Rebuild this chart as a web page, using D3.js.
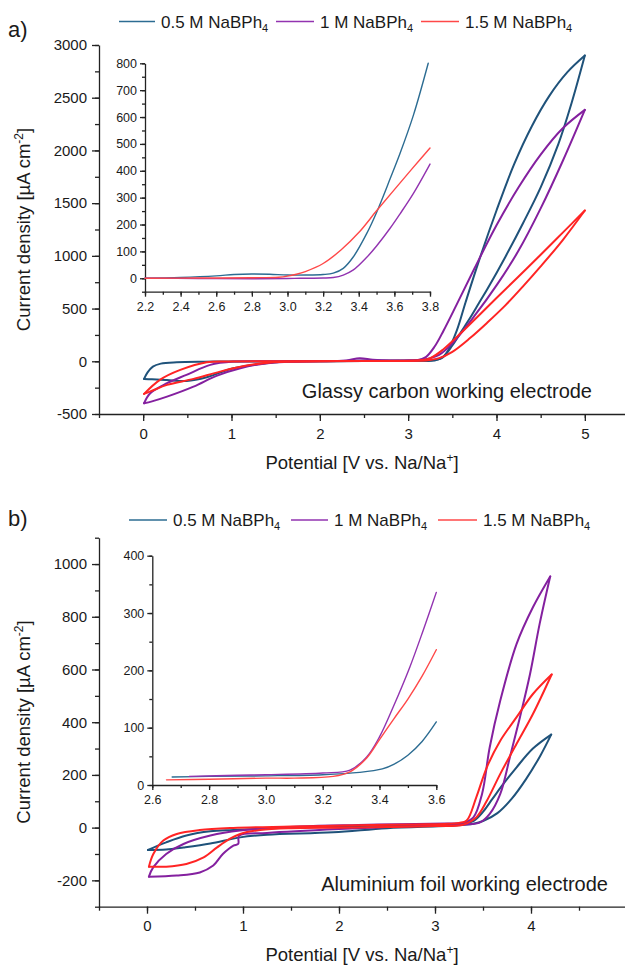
<!DOCTYPE html>
<html lang="en">
<head>
<meta charset="UTF-8" />
<title>CV of NaBPh4 electrolytes</title>
<script src="https://cdnjs.cloudflare.com/ajax/libs/d3/7.8.5/d3.min.js"></script>
<style>
  body { margin: 0; background: #fff; }
  svg { display: block; font-family: "Liberation Sans", Arial, sans-serif; }
  .axis path, .axis line { stroke: #222; stroke-width: 1.3; }
  .axis text { fill: #1a1a1a; }
</style>
</head>
<body>
<svg id="chart" width="625" height="966"></svg>
<script>
  // legend labels (the "4" is drawn as a subscript)
  const seriesLabels = ["0.5 M NaBPh", "1 M NaBPh", "1.5 M NaBPh"];
  const seriesColors = ["#1f527a", "#84209f", "#ff2424"];
  const insetColors = ["#2c6c92", "#9233b0", "#ff4848"];

  // ---- panel a) glassy carbon, [V, uA cm-2] ----
  const aBlueFwd = [[0.01,-167],[0.05,-105],[0.11,-50],[0.2,-22],[0.38,-9],[0.7,-4],[1.0,-2],[1.5,-1],[2.0,0],[2.5,3],[2.9,5],[3.1,6],[3.3,8],[3.4,45],[3.5,150],[3.6,280],[3.7,410],[3.8,550],[3.9,690],[4.1,990],[4.3,1310],[4.5,1650],[4.7,2060],[4.85,2450],[5.0,2900]];
  const aBlueRev = [[5.0,2900],[4.8,2740],[4.6,2520],[4.4,2230],[4.2,1870],[4.0,1430],[3.8,950],[3.65,560],[3.55,290],[3.45,100],[3.38,30],[3.25,10],[3.0,6],[2.5,4],[2.0,0],[1.62,-3],[1.32,-25],[1.02,-66],[0.72,-151],[0.49,-186],[0.27,-178],[0.1,-170],[0.01,-167]];
  const aPurpleFwd = [[0.01,-398],[0.08,-303],[0.27,-208],[0.49,-129],[0.76,-34],[1.02,-3],[1.5,0],[2.0,2],[2.3,8],[2.45,28],[2.6,15],[2.8,8],[3.0,10],[3.15,15],[3.25,30],[3.35,60],[3.5,170],[3.75,430],[4.0,720],[4.25,1050],[4.5,1450],[4.75,1900],[5.0,2385]];
  const aPurpleRev = [[5.0,2385],[4.75,2210],[4.5,1960],[4.25,1650],[4.0,1290],[3.75,880],[3.55,540],[3.4,290],[3.3,140],[3.2,40],[3.1,10],[2.8,5],[2.5,8],[2.0,0],[1.62,-5],[1.4,-18],[1.1,-66],[0.83,-138],[0.57,-240],[0.27,-335],[0.1,-380],[0.01,-398]];
  const aRedFwd = [[0.01,-309],[0.19,-176],[0.42,-82],[0.72,-9],[1.0,-2],[1.5,0],[2.0,1],[2.5,3],[3.0,5],[3.2,8],[3.35,30],[3.5,90],[3.7,220],[3.9,370],[4.1,530],[4.3,710],[4.5,900],[4.75,1150],[5.0,1430]];
  const aRedRev = [[5.0,1430],[4.75,1220],[4.5,1010],[4.25,805],[4.0,600],[3.8,435],[3.6,270],[3.4,115],[3.25,30],[3.1,8],[2.5,3],[2.0,0],[1.47,-9],[1.17,-41],[0.87,-98],[0.57,-167],[0.27,-224],[0.1,-280],[0.01,-309]];
  // inset a)
  const iaBlue = [[2.2,0],[2.4,3],[2.6,9],[2.7,14],[2.8,16],[2.9,15],[3.0,12],[3.1,12],[3.2,14],[3.257,19],[3.313,37],[3.37,80],[3.445,167],[3.5,245],[3.576,370],[3.632,465],[3.707,607],[3.79,800]];
  const iaPurple = [[2.2,0],[2.5,-1],[2.8,-2],[3.0,-1],[3.07,0],[3.2,1],[3.257,3],[3.313,12],[3.37,31],[3.445,78],[3.5,120],[3.576,186],[3.632,240],[3.707,316],[3.8,425]];
  const iaRed = [[2.2,0],[2.5,1],[2.8,2],[2.95,4],[3.0,8],[3.05,15],[3.1,25],[3.2,55],[3.3,105],[3.4,170],[3.5,251],[3.6,330],[3.7,408],[3.8,485]];

  // ---- panel b) aluminium foil ----
  const bBlueFwd = [[0.01,-85],[0.2,-56],[0.41,-30],[0.66,-14],[0.9,-9],[1.59,1],[2.2,6],[2.8,10],[3.2,14],[3.3,16],[3.4,25],[3.5,60],[3.6,110],[3.7,160],[3.85,229],[4.02,300],[4.21,353]];
  const bBlueRev = [[4.21,353],[4.1,275],[3.95,185],[3.8,110],[3.65,55],[3.5,25],[3.4,15],[3.2,8],[2.5,-2],[1.94,-18],[1.25,-27],[0.97,-37],[0.66,-60],[0.38,-75],[0.2,-83],[0.01,-85]];
  const bPurpleFwd = [[0.02,-186],[0.066,-150],[0.2,-100],[0.38,-62],[0.66,-30],[0.97,-11],[1.59,4],[2.2,10],[2.8,14],[3.1,16],[3.29,18],[3.4,39],[3.49,128],[3.57,305],[3.68,482],[3.85,697],[4.02,836],[4.2,953]];
  const bPurpleRev = [[4.2,953],[4.09,773],[3.99,583],[3.885,419],[3.78,267],[3.68,128],[3.57,52],[3.47,20],[3.3,12],[3.0,8],[2.5,2],[2.0,-5],[1.25,-20],[0.96,-30],[0.95,-62],[0.9,-68],[0.79,-100],[0.69,-144],[0.55,-170],[0.31,-182],[0.02,-186]];
  const bRedFwd = [[0.02,-148],[0.066,-100],[0.17,-49],[0.31,-24],[0.55,-9],[0.9,-1],[1.5,4],[2.2,9],[2.8,12],[3.1,14],[3.25,18],[3.33,27],[3.43,115],[3.54,229],[3.68,330],[3.85,419],[4.02,507],[4.215,581]];
  const bRedRev = [[4.215,581],[4.02,431],[3.85,318],[3.68,204],[3.54,102],[3.43,39],[3.3,12],[3.0,6],[2.5,2],[2.0,0],[1.5,-2],[1.18,-9],[0.97,-24],[0.86,-43],[0.73,-75],[0.59,-113],[0.41,-138],[0.2,-148],[0.02,-148]];
  // inset b)
  const ibBlue = [[2.67,14],[2.8,15],[3.0,16],[3.2,18],[3.33,22],[3.41,28],[3.45,36],[3.5,52],[3.55,76],[3.6,110]];
  const ibPurple = [[2.73,15],[2.9,17],[3.0,18],[3.2,21],[3.296,26],[3.355,49],[3.4,84],[3.449,137],[3.507,206],[3.554,270],[3.6,336]];
  const ibRed = [[2.65,9],[2.8,10],[3.0,12],[3.1,12],[3.237,15],[3.296,23],[3.355,47],[3.4,79],[3.45,115],[3.5,150],[3.55,190],[3.6,236]];

  // tick values
  const aXTicks = [0, 1, 2, 3, 4, 5];
  const aYTicks = [-500, 0, 500, 1000, 1500, 2000, 2500, 3000];
  const iaXTicks = [2.2, 2.4, 2.6, 2.8, 3.0, 3.2, 3.4, 3.6, 3.8];
  const iaYTicks = [0, 100, 200, 300, 400, 500, 600, 700, 800];
  const bXTicks = [0, 1, 2, 3, 4];
  const bYTicks = [-200, 0, 200, 400, 600, 800, 1000];
  const ibXTicks = [2.6, 2.8, 3.0, 3.2, 3.4, 3.6];
  const ibYTicks = [0, 100, 200, 300, 400];

  const svg = d3.select("#chart");

  // scales
  const xa = d3.scaleLinear([-0.5, 5.5], [99, 629]);
  const ya = d3.scaleLinear([-500, 3000], [414, 45]);
  const xia = d3.scaleLinear([2.2, 3.8], [145, 430]);
  const yia = d3.scaleLinear([-50, 800], [291.7, 63.3]);
  const xb = d3.scaleLinear([-0.5, 5], [99, 627]);
  const yb = d3.scaleLinear([-300, 1100], [906.7, 537.7]);
  const xib = d3.scaleLinear([2.6, 3.6], [152.3, 436.3]);
  const yib = d3.scaleLinear([0, 400], [785, 555.7]);

  function minorTicks(domain, step) {
    const out = [];
    for (let v = domain[0]; v <= domain[1] + 1e-9; v += step) out.push(+v.toFixed(4));
    return out;
  }

  function drawAxes(x, y, o) {
    const y0 = y.range()[0], x0 = x.range()[0];
    // minor first
    svg.append("g").attr("class", "axis").attr("transform", `translate(0,${y0})`)
      .call(d3.axisBottom(x).tickValues(minorTicks(x.domain(), o.xMinor)).tickSize(o.minor).tickFormat(""))
      .select(".domain").remove();
    svg.append("g").attr("class", "axis").attr("transform", `translate(${x0},0)`)
      .call(d3.axisLeft(y).tickValues(minorTicks(y.domain(), o.yMinor)).tickSize(o.minor).tickFormat(""))
      .select(".domain").remove();
    svg.append("g").attr("class", "axis").attr("transform", `translate(0,${y0})`)
      .call(d3.axisBottom(x).tickValues(o.xTicks).tickSize(o.major).tickPadding(o.padX).tickSizeOuter(0).tickFormat(o.xFmt))
      .attr("font-size", o.font).attr("font-family", null);
    svg.append("g").attr("class", "axis").attr("transform", `translate(${x0},0)`)
      .call(d3.axisLeft(y).tickValues(o.yTicks).tickSize(o.major).tickPadding(o.padY).tickSizeOuter(0).tickFormat(d => String(d)))
      .attr("font-size", o.font).attr("font-family", null);
  }

  function curve(x, y) {
    return d3.line().x(d => x(d[0])).y(d => y(d[1])).curve(d3.curveCatmullRom.alpha(0.5));
  }

  function drawSeries(list, x, y, colors, width) {
    const ln = curve(x, y);
    list.forEach((branches, i) => {
      branches.forEach(b => {
        svg.append("path").attr("d", ln(b)).attr("fill", "none")
          .attr("stroke", colors[i]).attr("stroke-width", width)
          .attr("stroke-linejoin", "round").attr("stroke-linecap", "round");
      });
    });
  }

  function legend(yb, starts) {
    seriesLabels.forEach((lab, i) => {
      const s = starts[i];
      svg.append("line").attr("x1", s[0]).attr("x2", s[1]).attr("y1", yb - 6).attr("y2", yb - 6)
        .attr("stroke", insetColors[i]).attr("stroke-width", 1.6);
      const t = svg.append("text").attr("x", s[1] + 6).attr("y", yb)
        .attr("font-size", 17).attr("fill", "#1a1a1a").text(lab);
      t.append("tspan").attr("dy", 4).attr("font-size", 11).text("4");
    });
  }

  function yTitle(cy) {
    const t = svg.append("text").attr("transform", `translate(30,${cy}) rotate(-90)`)
      .attr("text-anchor", "middle").attr("font-size", 18.5).attr("fill", "#1a1a1a");
    t.append("tspan").text("Current density [\u00b5A cm");
    t.append("tspan").attr("dy", -7).attr("font-size", 12).text("-2");
    t.append("tspan").attr("dy", 7).text("]");
  }

  function xTitle(cx, by) {
    const t = svg.append("text").attr("x", cx).attr("y", by)
      .attr("text-anchor", "middle").attr("font-size", 18.5).attr("fill", "#1a1a1a");
    t.append("tspan").text("Potential [V vs. Na/Na");
    t.append("tspan").attr("dy", -7).attr("font-size", 12).text("+");
    t.append("tspan").attr("dy", 7).text("]");
  }

  const fmt1 = d3.format(".1f");
  const fmt0 = d => String(d);

  // ---- panel a ----
  drawAxes(xa, ya, { xTicks: aXTicks, yTicks: aYTicks, xMinor: 0.5, yMinor: 250, major: 7, minor: 4, padX: 7, padY: 5, font: 15, xFmt: fmt0 });
  drawAxes(xia, yia, { xTicks: iaXTicks, yTicks: iaYTicks, xMinor: 0.1, yMinor: 50, major: 5, minor: 3, padX: 5, padY: 3, font: 12.5, xFmt: fmt1 });
  drawSeries([[aBlueFwd, aBlueRev], [aPurpleFwd, aPurpleRev], [aRedFwd, aRedRev]], xa, ya, seriesColors, 2);
  drawSeries([[iaBlue], [iaPurple], [iaRed]], xia, yia, insetColors, 1.4);
  legend(27.5, [[119, 155], [276, 314], [421, 459]]);
  svg.append("text").attr("x", 8).attr("y", 37).attr("font-size", 22).attr("fill", "#1a1a1a").text("a)");
  yTitle(229.5);
  xTitle(362, 469);
  svg.append("text").attr("x", 592).attr("y", 398).attr("text-anchor", "end")
    .attr("font-size", 20).attr("fill", "#1a1a1a").text("Glassy carbon working electrode");

  // ---- panel b ----
  drawAxes(xb, yb, { xTicks: bXTicks, yTicks: bYTicks, xMinor: 0.5, yMinor: 100, major: 7, minor: 4, padX: 7, padY: 5, font: 15, xFmt: fmt0 });
  drawAxes(xib, yib, { xTicks: ibXTicks, yTicks: ibYTicks, xMinor: 0.1, yMinor: 50, major: 5, minor: 3, padX: 5, padY: 3, font: 12.5, xFmt: fmt1 });
  drawSeries([[bBlueFwd, bBlueRev], [bPurpleFwd, bPurpleRev], [bRedFwd, bRedRev]], xb, yb, seriesColors, 2);
  drawSeries([[ibBlue], [ibPurple], [ibRed]], xib, yib, insetColors, 1.4);
  legend(526, [[129, 167], [291, 328], [438, 477]]);
  svg.append("text").attr("x", 8).attr("y", 526).attr("font-size", 22).attr("fill", "#1a1a1a").text("b)");
  yTitle(722);
  xTitle(362, 961);
  svg.append("text").attr("x", 608).attr("y", 891).attr("text-anchor", "end")
    .attr("font-size", 20).attr("fill", "#1a1a1a").text("Aluminium foil working electrode");
</script>
</body>
</html>
